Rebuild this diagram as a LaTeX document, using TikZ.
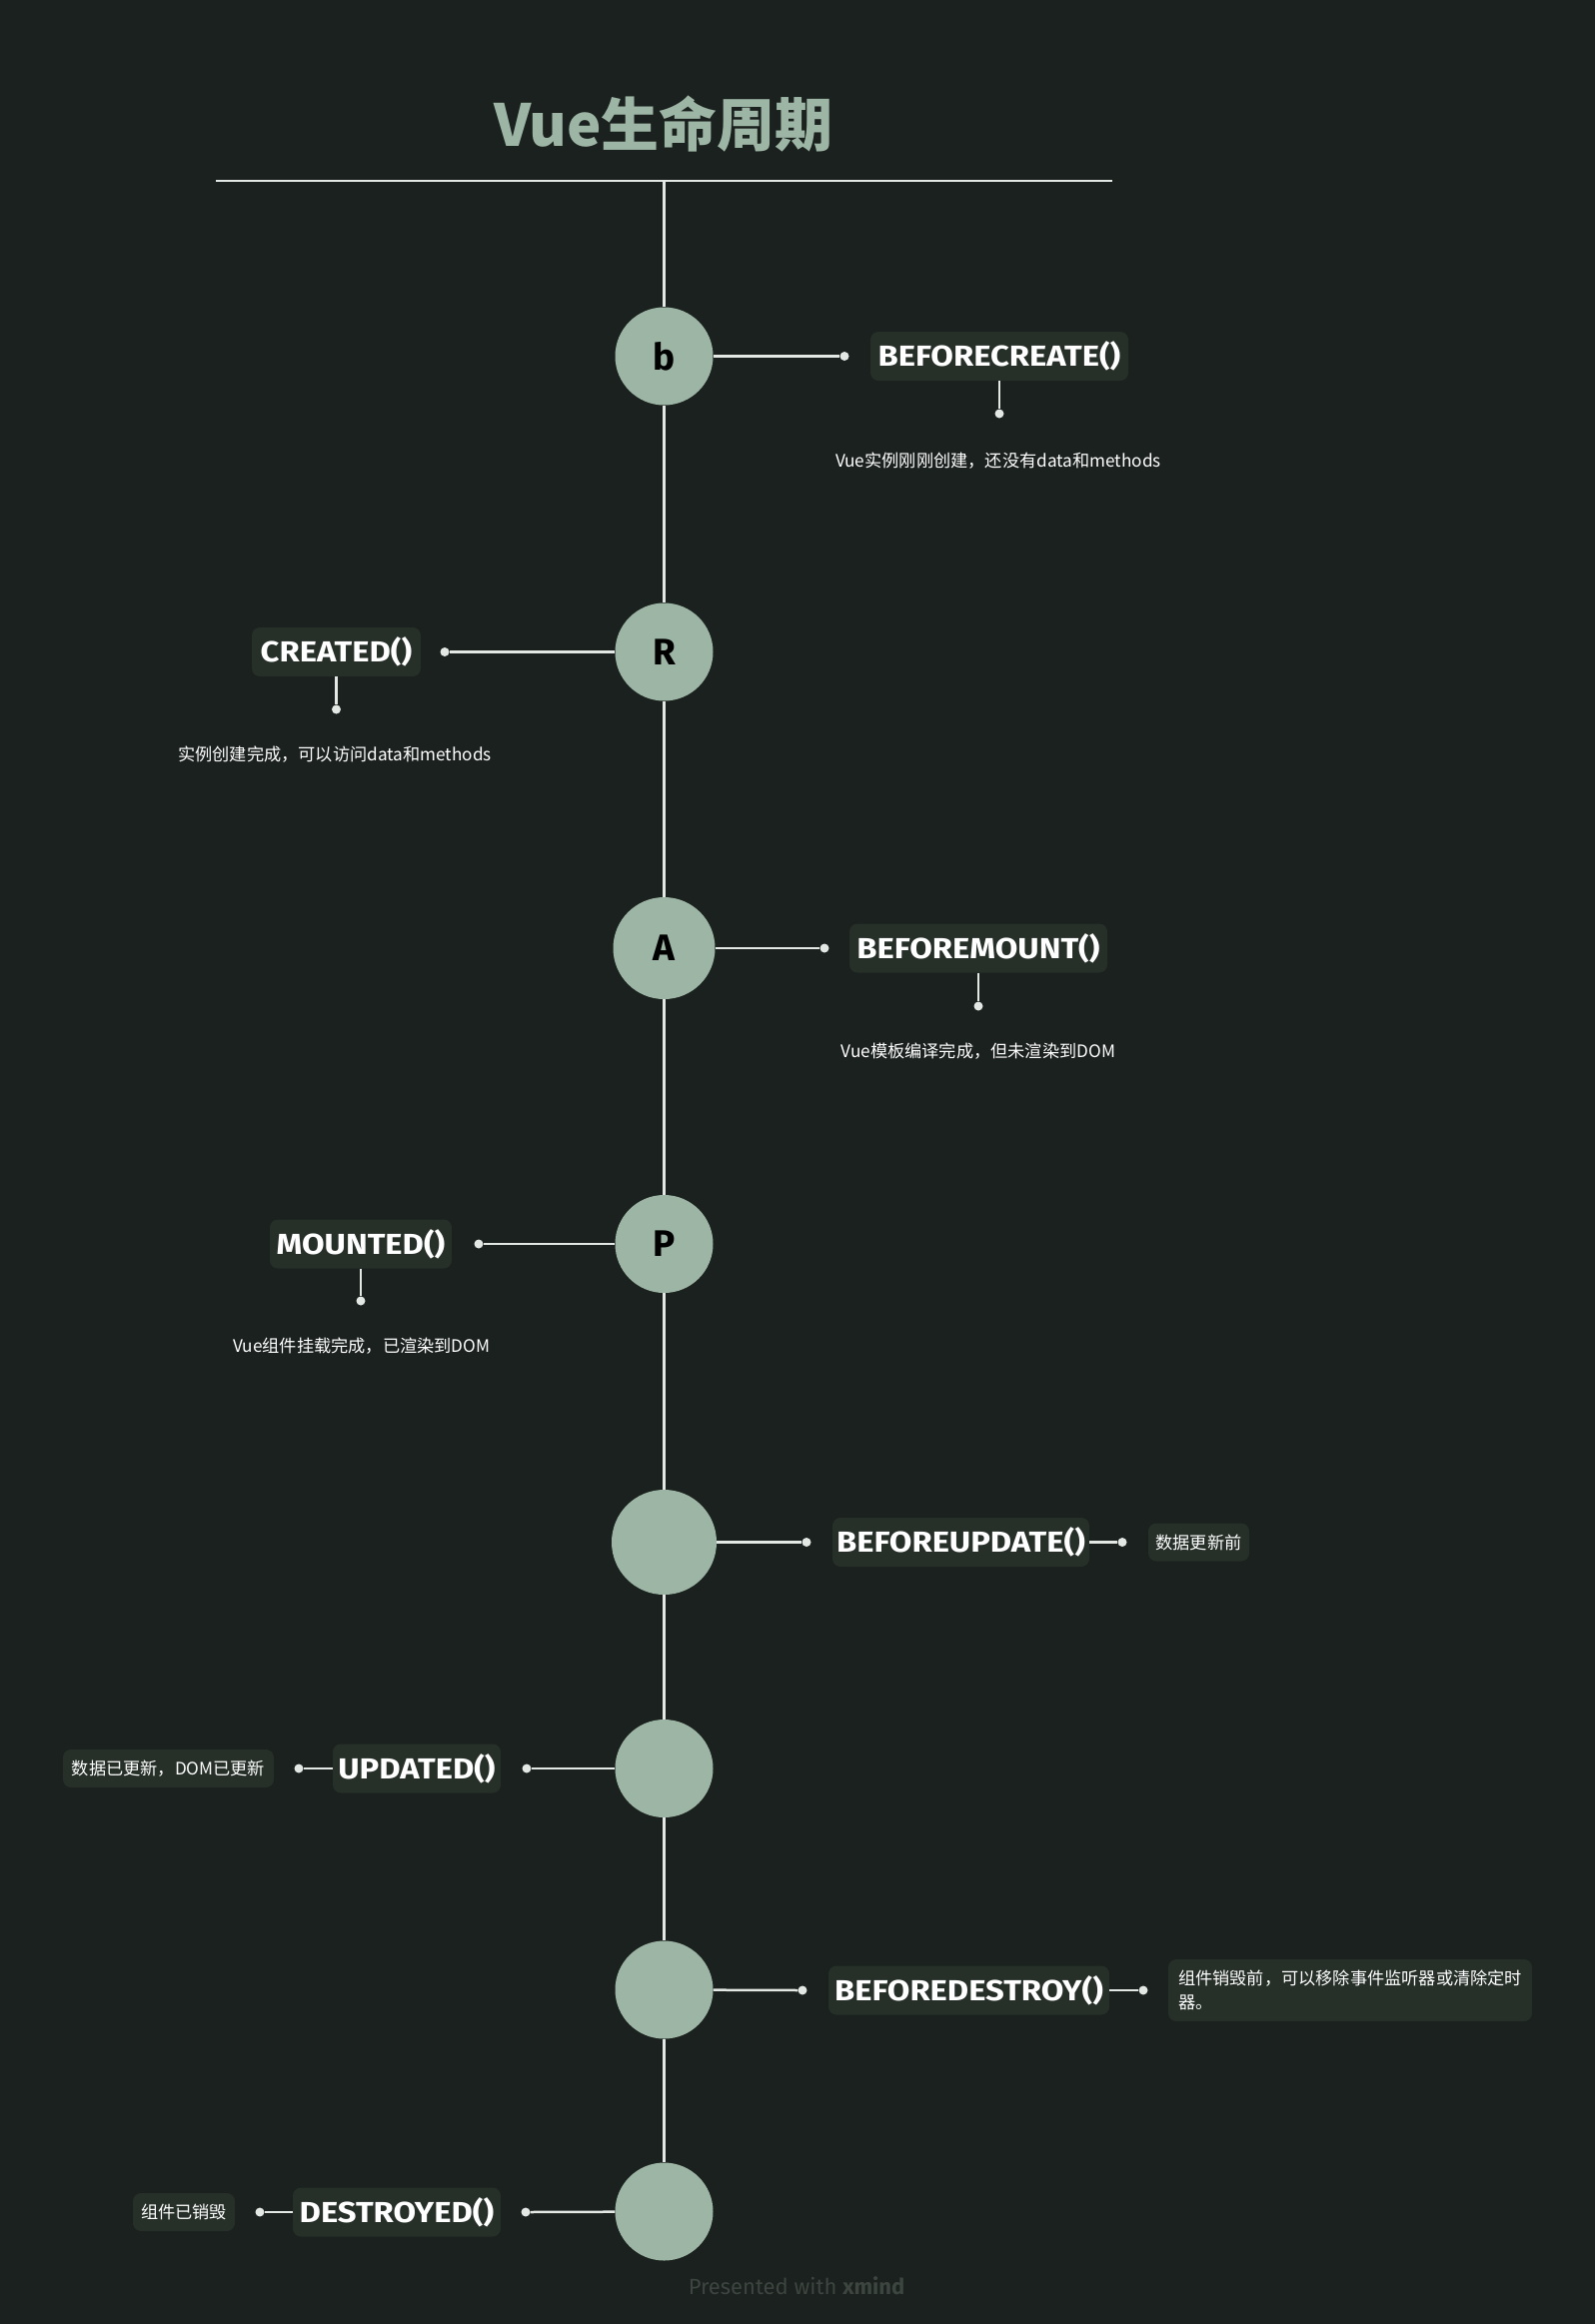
\documentclass[tikz,border=0pt]{standalone}
\usepackage{fontspec}
\setmainfont{Fira Sans}
\newfontfamily\lblfont[FakeStretch=1.13]{Fira Sans}
\newfontfamily\cjk{Noto Sans CJK SC}
\definecolor{bgc}{HTML}{1B211E}
\definecolor{circ}{HTML}{9DB5A5}
\definecolor{boxc}{HTML}{263029}
\definecolor{linec}{HTML}{E3E8E5}
\definecolor{footc}{HTML}{3C4540}
\tikzset{
  hub/.style={circle, fill=circ, inner sep=0pt, minimum size=#1, text=black,
    font=\fontsize{37}{40}\selectfont\bfseries},
  topic/.style={rounded corners=8pt, fill=boxc, text=white, inner sep=0pt,
    minimum height=49pt, font=\lblfont\fontsize{29}{34}\selectfont\bfseries},
  conn/.style={draw=linec, line width=2.5pt},
  dotn/.style={circle, fill=linec, inner sep=0pt, minimum size=9pt},
  desc/.style={text=white, inner sep=0pt, font=\cjk\fontsize{17.2}{24}\selectfont},
  descbox/.style={desc, fill=boxc, rounded corners=8pt, minimum height=38pt},
}
\begin{document}
\begin{tikzpicture}[x=1pt,y=-1pt]
\fill[bgc] (0,0) rectangle (1596,2326);
\useasboundingbox (0,0) rectangle (1596,2326);

% title
\node[text=circ, font=\cjk\bfseries\fontsize{58}{64}\selectfont] (title) at (664,124) {Vue生命周期};
\coordinate (hl) at (216,181);
\coordinate (hr) at (1113,181);
\coordinate (top) at (664.5,181);
\draw[conn] (hl) -- (hr);

% hubs
\node[hub=98pt]  (c1) at (664.5,356.5) {b};
\node[hub=98pt]  (c2) at (664.5,652.5) {R};
\node[hub=102pt] (c3) at (664.5,949) {A};
\node[hub=98pt]  (c4) at (664.5,1245) {P};
\node[hub=105pt] (c5) at (664.5,1543.5) {};
\node[hub=98pt]  (c6) at (664.5,1770) {};
\node[hub=98pt]  (c7) at (664.5,1991.5) {};
\node[hub=98pt]  (c8) at (664.5,2213.5) {};

% spine
\draw[conn] (top) -- (c1);
\draw[conn] (c1) -- (c2);
\draw[conn] (c2) -- (c3);
\draw[conn] (c3) -- (c4);
\draw[conn] (c4) -- (c5);
\draw[conn] (c5) -- (c6);
\draw[conn] (c6) -- (c7);
\draw[conn] (c7) -- (c8);

% topics
\node[topic, minimum width=258pt] (t1) at (1000,356.5) {BEFORECREATE()};
\node[topic, minimum width=169pt] (t2) at (336.5,652.5) {CREATED()};
\node[topic, minimum width=258pt] (t3) at (979,949) {BEFOREMOUNT()};
\node[topic, minimum width=182pt] (t4) at (361,1245) {MOUNTED()};
\node[topic, minimum width=257pt] (t5) at (961.5,1543.5) {BEFOREUPDATE()};
\node[topic, minimum width=168pt] (t6) at (417,1770) {UPDATED()};
\node[topic, minimum width=281pt] (t7) at (969.5,1992) {BEFOREDESTROY()};
\node[topic, minimum width=208pt] (t8) at (397,2214) {DESTROYED()};

% main dots
\node[dotn] (p1) at (845,356.5) {};
\node[dotn] (p2) at (445,652.5) {};
\node[dotn] (p3) at (825,949) {};
\node[dotn] (p4) at (479,1245) {};
\node[dotn] (p5) at (807,1543.5) {};
\node[dotn] (p6) at (527,1770) {};
\node[dotn] (p7) at (803,1992) {};
\node[dotn] (p8) at (526,2214) {};
\foreach \i in {1,...,8} { \draw[conn] (c\i) -- (p\i); }

% sub dots
\node[dotn] (q1) at (1000,414) {};
\node[dotn] (q2) at (336.5,710) {};
\node[dotn] (q3) at (979,1007) {};
\node[dotn] (q4) at (361,1302) {};
\node[dotn] (q5) at (1123,1543.5) {};
\node[dotn] (q6) at (299,1770) {};
\node[dotn] (q7) at (1144,1992) {};
\node[dotn] (q8) at (260,2214) {};
\draw[conn] (t1) -- (q1);
\draw[conn] (t2) -- (q2);
\draw[conn] (t3) -- (q3);
\draw[conn] (t4) -- (q4);
\draw[conn] (t5) -- (q5);
\draw[conn] (t6) -- (q6);
\draw[conn] (t7) -- (q7);
\draw[conn] (t8) -- (q8);

% descriptions
\node[desc] (d1) at (999,461) {Vue实例刚刚创建，还没有data和methods};
\node[desc] (d2) at (335,755) {实例创建完成，可以访问data和methods};
\node[desc] (d3) at (979,1052) {Vue模板编译完成，但未渲染到DOM};
\node[desc] (d4) at (362,1347) {Vue组件挂载完成，已渲染到DOM};
\node[descbox, minimum width=101pt] (d5) at (1199.5,1543.5) {数据更新前};
\node[descbox, minimum width=211pt] (d6) at (168.5,1770) {数据已更新，DOM已更新};
\node[descbox, minimum width=364pt, minimum height=62pt, align=left] (d7) at (1351,1992) {组件销毁前，可以移除事件监听器或清除定时\\器。};
\node[descbox, minimum width=102pt] (d8) at (184,2214) {组件已销毁};

% footer
\node[text=footc, font=\fontsize{22}{26}\selectfont] (foot) at (797,2288) {Presented with \textbf{xmind}};
\end{tikzpicture}
\end{document}
